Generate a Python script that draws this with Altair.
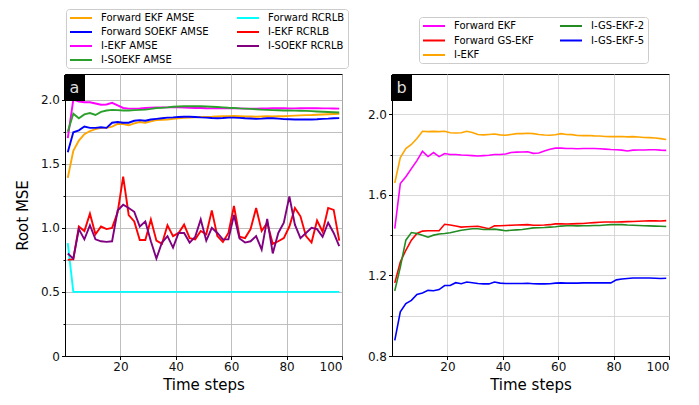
import altair as alt
import pandas as pd

TIME = [1, 3, 5, 7, 9, 11, 13, 15, 17, 19,
        21, 23, 25, 27, 29, 31, 33, 35, 37, 39,
        41, 43, 45, 47, 49, 51, 53, 55, 57, 59,
        61, 63, 65, 67, 69, 71, 73, 75, 77, 79,
        81, 83, 85, 87, 89, 91, 93, 95, 97, 99]

# ---------------- panel a ----------------
FWD_EKF_AMSE = [1.39, 1.60, 1.68, 1.73, 1.755, 1.77, 1.78, 1.78, 1.79, 1.81,
                1.81, 1.80, 1.815, 1.825, 1.82, 1.83, 1.84, 1.843, 1.845, 1.85,
                1.855, 1.858, 1.86, 1.862, 1.865, 1.865, 1.866, 1.868, 1.87, 1.87,
                1.872, 1.87, 1.868, 1.868, 1.866, 1.868, 1.87, 1.869, 1.87, 1.87,
                1.873, 1.875, 1.877, 1.879, 1.88, 1.882, 1.884, 1.886, 1.888, 1.889]
FWD_SOEKF_AMSE = [1.59, 1.745, 1.76, 1.79, 1.78, 1.78, 1.785, 1.78, 1.82, 1.825,
                  1.82, 1.82, 1.835, 1.84, 1.835, 1.845, 1.85, 1.855, 1.86, 1.862,
                  1.865, 1.866, 1.867, 1.865, 1.862, 1.86, 1.857, 1.855, 1.857, 1.86,
                  1.86, 1.858, 1.855, 1.853, 1.85, 1.852, 1.855, 1.855, 1.852, 1.848,
                  1.847, 1.845, 1.845, 1.845, 1.845, 1.847, 1.85, 1.852, 1.855, 1.856]
IEKF_AMSE = [1.70, 2.00, 1.985, 1.98, 1.98, 1.97, 1.96, 1.962, 1.975, 1.955,
             1.935, 1.93, 1.93, 1.932, 1.935, 1.938, 1.94, 1.94, 1.94, 1.942,
             1.94, 1.938, 1.937, 1.935, 1.935, 1.933, 1.932, 1.932, 1.933, 1.933,
             1.932, 1.932, 1.93, 1.93, 1.93, 1.932, 1.932, 1.933, 1.933, 1.933,
             1.932, 1.932, 1.933, 1.933, 1.933, 1.933, 1.932, 1.932, 1.931, 1.93]
ISOEKF_AMSE = [1.75, 1.89, 1.855, 1.885, 1.895, 1.88, 1.905, 1.915, 1.92, 1.918,
               1.915, 1.915, 1.918, 1.92, 1.922, 1.928, 1.935, 1.937, 1.94, 1.945,
               1.947, 1.948, 1.948, 1.948, 1.948, 1.947, 1.945, 1.943, 1.94, 1.937,
               1.935, 1.932, 1.93, 1.928, 1.925, 1.922, 1.92, 1.918, 1.917, 1.915,
               1.915, 1.914, 1.913, 1.912, 1.91, 1.908, 1.906, 1.904, 1.902, 1.90]
FWD_RCRLB = [0.88, 0.50, 0.50, 0.50, 0.50, 0.50, 0.50, 0.50, 0.50, 0.50,
             0.50, 0.50, 0.50, 0.50, 0.50, 0.50, 0.50, 0.50, 0.50, 0.50,
             0.50, 0.50, 0.50, 0.50, 0.50, 0.50, 0.50, 0.50, 0.50, 0.50,
             0.50, 0.50, 0.50, 0.50, 0.50, 0.50, 0.50, 0.50, 0.50, 0.50,
             0.50, 0.50, 0.50, 0.50, 0.50, 0.50, 0.50, 0.50, 0.50, 0.50]
IEKF_RCRLB = [0.75, 0.755, 1.01, 0.975, 1.11, 0.95, 1.01, 0.99, 1.0, 1.12,
              1.40, 1.10, 1.05, 0.905, 0.905, 1.065, 0.90, 0.875, 1.02, 0.935,
              0.96, 1.025, 0.92, 0.91, 0.975, 0.95, 1.135, 0.935, 0.89, 0.96,
              1.17, 0.93, 0.92, 0.99, 1.155, 0.975, 1.04, 0.875, 0.895, 0.92,
              1.01, 1.155, 1.09, 0.935, 0.885, 1.057, 0.97, 1.155, 1.14, 0.90]
ISOEKF_RCRLB = [0.80, 0.76, 0.99, 0.91, 1.02, 0.91, 0.895, 0.89, 0.895, 1.135,
                1.18, 1.155, 1.125, 1.01, 1.05, 0.895, 0.76, 0.885, 0.935, 0.845,
                0.96, 0.96, 0.885, 0.93, 1.065, 0.90, 1.0, 0.96, 0.91, 0.91,
                1.10, 0.917, 0.885, 0.895, 0.935, 0.83, 1.07, 0.80, 0.96, 1.04,
                1.245, 1.025, 0.92, 0.96, 1.0, 0.99, 0.93, 1.04, 0.96, 0.857]

# legend order (filled column by column, 2 columns)
A_NAMES = ["Forward EKF AMSE", "Forward SOEKF AMSE", "I-EKF AMSE", "I-SOEKF AMSE",
           "Forward RCRLB", "I-EKF RCRLB", "I-SOEKF RCRLB"]
A_COLORS = ["#ffa500", "#0000ff", "#ff00ff", "#2ca02c", "#00ffff", "#ff0000", "#800080"]
A_DATA = {"Forward EKF AMSE": FWD_EKF_AMSE, "Forward SOEKF AMSE": FWD_SOEKF_AMSE,
          "I-EKF AMSE": IEKF_AMSE, "I-SOEKF AMSE": ISOEKF_AMSE,
          "Forward RCRLB": FWD_RCRLB, "I-EKF RCRLB": IEKF_RCRLB,
          "I-SOEKF RCRLB": ISOEKF_RCRLB}

# ---------------- panel b ----------------
B_IEKF = [1.659, 1.785, 1.83, 1.85, 1.88, 1.916, 1.914, 1.915, 1.914, 1.916,
          1.908, 1.907, 1.908, 1.916, 1.91, 1.90, 1.898, 1.90, 1.902, 1.898,
          1.896, 1.90, 1.904, 1.904, 1.906, 1.904, 1.90, 1.897, 1.896, 1.898,
          1.904, 1.90, 1.899, 1.895, 1.894, 1.895, 1.893, 1.892, 1.89, 1.889,
          1.889, 1.89, 1.888, 1.889, 1.887, 1.885, 1.884, 1.882, 1.879, 1.875]
B_FWD_EKF = [1.432, 1.656, 1.69, 1.73, 1.77, 1.816, 1.79, 1.81, 1.79, 1.805,
             1.80, 1.80, 1.798, 1.797, 1.795, 1.793, 1.795, 1.797, 1.80, 1.80,
             1.803, 1.81, 1.812, 1.813, 1.814, 1.806, 1.808, 1.818, 1.826, 1.832,
             1.832, 1.83, 1.83, 1.829, 1.83, 1.83, 1.83, 1.829, 1.827, 1.825,
             1.824, 1.822, 1.818, 1.822, 1.823, 1.823, 1.824, 1.824, 1.822, 1.821]
B_FWD_GS = [1.163, 1.267, 1.325, 1.375, 1.408, 1.42, 1.422, 1.422, 1.422, 1.454,
            1.45, 1.445, 1.44, 1.442, 1.443, 1.444, 1.438, 1.432, 1.446, 1.447,
            1.448, 1.449, 1.45, 1.451, 1.452, 1.449, 1.449, 1.45, 1.452, 1.456,
            1.456, 1.455, 1.456, 1.457, 1.458, 1.46, 1.462, 1.464, 1.465, 1.465,
            1.465, 1.466, 1.467, 1.468, 1.469, 1.47, 1.471, 1.471, 1.47, 1.472]
B_IGS2 = [1.123, 1.242, 1.375, 1.413, 1.408, 1.40, 1.39, 1.40, 1.406, 1.408,
          1.412, 1.418, 1.424, 1.428, 1.432, 1.432, 1.428, 1.428, 1.43, 1.426,
          1.422, 1.424, 1.426, 1.428, 1.432, 1.436, 1.437, 1.438, 1.44, 1.442,
          1.445, 1.447, 1.447, 1.446, 1.447, 1.447, 1.448, 1.448, 1.45, 1.452,
          1.452, 1.452, 1.45, 1.449, 1.448, 1.447, 1.446, 1.445, 1.444, 1.443]
B_IGS5 = [0.878, 1.019, 1.06, 1.076, 1.106, 1.113, 1.126, 1.124, 1.13, 1.15,
          1.15, 1.164, 1.159, 1.167, 1.164, 1.16, 1.158, 1.158, 1.167, 1.162,
          1.16, 1.16, 1.16, 1.16, 1.161, 1.159, 1.158, 1.158, 1.159, 1.162,
          1.163, 1.162, 1.162, 1.162, 1.163, 1.163, 1.163, 1.163, 1.163, 1.163,
          1.178, 1.182, 1.185, 1.187, 1.187, 1.187, 1.187, 1.186, 1.185, 1.186]

B_NAMES = ["Forward EKF", "Forward GS-EKF", "I-EKF", "I-GS-EKF-2", "I-GS-EKF-5"]
B_COLORS = ["#ff00ff", "#ff0000", "#ffa500", "#228b22", "#0000ff"]
B_DATA = {"Forward EKF": B_FWD_EKF, "Forward GS-EKF": B_FWD_GS, "I-EKF": B_IEKF,
          "I-GS-EKF-2": B_IGS2, "I-GS-EKF-5": B_IGS5}

A_YTICKS = [0, 0.25, 0.5, 0.75, 1.0, 1.25, 1.5, 1.75, 2.0]
B_YTICKS = [0.8, 1.0, 1.2, 1.4, 1.6, 1.8, 2.0]
XTICKS = [20, 40, 60, 80, 100]

FONT = "DejaVu Sans"


def long_df(data):
    rows = []
    for name, vals in data.items():
        for t, v in zip(TIME, vals):
            rows.append({"t": t, "v": v, "s": name})
    return pd.DataFrame(rows)


def legend(x, y, rowpad, colpad):
    return alt.Legend(
        orient="none", legendX=x, legendY=y, columns=2, title=None,
        symbolType="M-1,0H3.4", symbolSize=100, symbolStrokeWidth=2,
        labelOffset=20, padding=3, rowPadding=rowpad, columnPadding=colpad,
        strokeColor="#cccccc", fillColor="white", cornerRadius=3,
        labelFont=FONT, labelFontSize=10, labelColor="black", labelLimit=300,
    )


def panel(df, names, colors, ydomain, yticks, major_test, label_expr, ytitle,
          gridcolor, leg, letter, sw):
    xaxis = alt.Axis(values=XTICKS, format="d", title="Time steps", grid=True,
                     gridColor=gridcolor, gridWidth=0.9, tickSize=3.5,
                     labelPadding=2, titlePadding=5)
    yaxis = alt.Axis(values=yticks, labelExpr=label_expr, grid=True,
                     gridColor=gridcolor, gridWidth=0.9,
                     tickSize=alt.condition(major_test, alt.value(3.5), alt.value(2)),
                     labelPadding=2, titlePadding=10)
    lines = alt.Chart(df).mark_line(strokeWidth=sw, clip=True).encode(
        x=alt.X("t:Q", scale=alt.Scale(domain=[0, 100], nice=False, zero=False), axis=xaxis),
        y=alt.Y("v:Q", scale=alt.Scale(domain=ydomain, nice=False, zero=False),
                axis=yaxis, title=ytitle),
        color=alt.Color("s:N", scale=alt.Scale(domain=names, range=colors),
                        sort=names, legend=leg),
    )
    lab = pd.DataFrame({"lab": [letter]})
    box = alt.Chart(lab).mark_rect(color="black").encode(
        x=alt.value(-1), x2=alt.value(20), y=alt.value(1), y2=alt.value(27))
    txt = alt.Chart(lab).mark_text(color="#dddddd", fontSize=16, font=FONT,
                                   align="center", baseline="middle").encode(
        x=alt.value(9.5), y=alt.value(14), text="lab:N")
    return alt.layer(lines, box, txt).properties(width=277, height=282)


pa = panel(long_df(A_DATA), A_NAMES, A_COLORS, [0, 2.2], A_YTICKS,
           "datum.value % 0.5 === 0",
           "datum.value % 0.5 === 0 ? (datum.value === 0 ? '0' : format(datum.value, '.1f')) : ''",
           "Root MSE", "#b8b8b8", legend(1, -65, 3, 24), "a", 1.9)
pb = panel(long_df(B_DATA), B_NAMES, B_COLORS, [0.8, 2.2], B_YTICKS,
           "round(datum.value * 10) % 4 === 0",
           "round(datum.value * 10) % 4 === 0 ? format(datum.value, '.1f') : ''",
           None, "#d4d4d4", legend(27, -57, 3.5, 22), "b", 1.6)

chart = alt.hconcat(pa, pb, spacing=17).resolve_scale(
    color="independent", y="independent", x="independent"
).properties(
    padding={"top": 0, "left": 6, "right": 2, "bottom": 2}
).configure_view(
    stroke="black", strokeWidth=1
).configure_axis(
    domainColor="black", tickColor="black", labelColor="#111111",
    labelFont=FONT, labelFontSize=12, titleFont=FONT, titleFontSize=15,
    titleFontWeight="normal", titleColor="black"
)

chart.save("out.html", embed_options={"renderer": "svg", "actions": False})
